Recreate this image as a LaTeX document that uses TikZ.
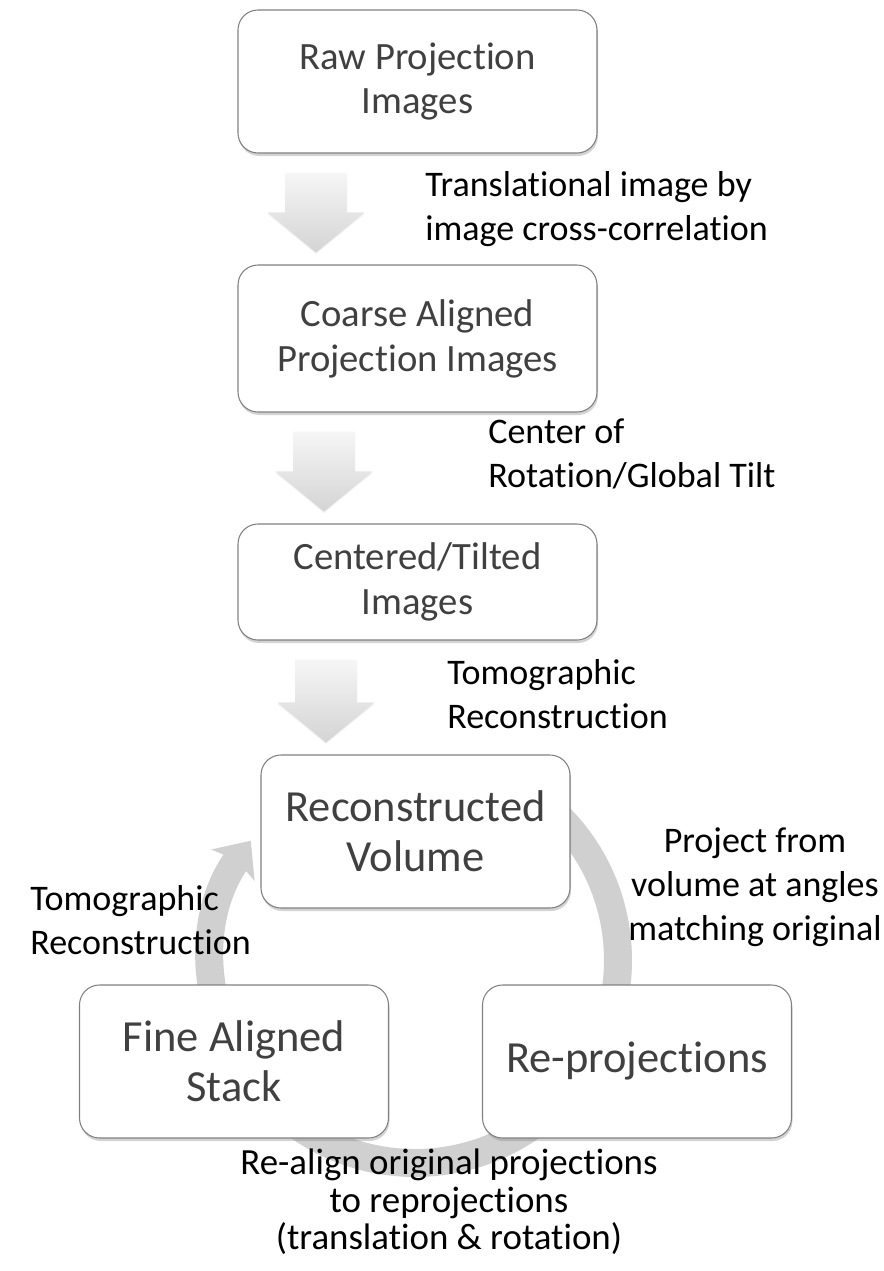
\documentclass[tikz,border=0pt]{standalone}
\usepackage{fontspec}
\setmainfont{Carlito}[Ligatures=NoCommon]
\usetikzlibrary{arrows.meta,shadows,calc}
\definecolor{BoxText}{RGB}{64,64,64}
\definecolor{BoxLine}{RGB}{128,128,128}
\definecolor{CycleGray}{RGB}{208,208,208}
\definecolor{ArrowTop}{RGB}{246,246,246}
\definecolor{ArrowBot}{RGB}{212,212,212}

% shaded block arrow between two boxes: from, to, x offset
\newcommand\blockarrow[3]{%
  \shade[top color=ArrowTop, bottom color=ArrowBot,
         drop shadow={shadow xshift=0cm, shadow yshift=-0.03cm, opacity=0.12}]
    let \p1=($(#1.south)+(#3,-0.38)$), \p2=($(#2.north)+(#3,0.24)$) in
    (\x1-0.62cm,\y1) -- (\x1+0.62cm,\y1) -- (\x1+0.62cm,\y2+0.8cm)
    -- (\x1+0.97cm,\y2+0.8cm) -- (\x1,\y2) -- (\x1-0.97cm,\y2+0.8cm)
    -- (\x1-0.62cm,\y2+0.8cm) -- cycle;}

\begin{document}
\begin{tikzpicture}[
  stepbox/.style={draw=BoxLine, line width=0.6pt, fill=white, rounded corners=0.4cm,
    align=center, text=BoxText, inner sep=0pt,
    drop shadow={shadow xshift=0.02cm, shadow yshift=-0.06cm, opacity=0.35}},
  topbox/.style={stepbox, minimum width=7.18cm, font=\fontsize{22}{25.5}\selectfont},
  loopbox/.style={stepbox, minimum width=6.18cm, minimum height=3.06cm,
    font=\fontsize{25.3}{28.5}\selectfont},
  note/.style={inner sep=0pt, font=\fontsize{20.5}{25}\selectfont},
  cycleline/.style={draw=CycleGray, line width=0.56cm,
    -{Stealth[length=0.6cm, width=1.05cm, inset=0.12cm]}},
]
\useasboundingbox (0,0) rectangle (17.68,-25.42);

% Cycle arrow behind the loop boxes
\coordinate (hub) at (8.30,-19.20);
\draw[cycleline] ([shift={(50:4.06)}]hub) arc[start angle=50, end angle=-216, radius=4.06];

% Pipeline boxes
\node[topbox, minimum height=2.86cm] (raw) at (8.35,-1.63) {Raw Projection\\Images};
\node[topbox, minimum height=2.94cm] (coarse) at (8.35,-6.77) {Coarse Aligned\\Projection Images};
\node[topbox, minimum height=2.32cm] (centered) at (8.35,-11.64) {Centered/Tilted\\Images};

% Loop boxes
\node[loopbox] (volume) at (8.31,-16.63) {Reconstructed\\Volume};
\node[loopbox] (fine) at (4.68,-21.23) {Fine Aligned\\Stack};
\node[loopbox] (reproj) at (12.74,-21.23) {Re-projections};

% Block arrows
\blockarrow{raw}{coarse}{-2.03}
\blockarrow{coarse}{centered}{-1.87}
\blockarrow{centered}{volume}{-1.83}

% Step labels
\node[note, anchor=west, align=left] (lbltrans) at (8.50,-4.18) {Translational image by\\image cross-correlation};
\node[note, anchor=west, align=left] (lblcenter) at (9.76,-9.08) {Center of\\Rotation/Global Tilt};
\node[note, anchor=west, align=left] (lbltomo) at (8.94,-13.88) {Tomographic\\Reconstruction};
\node[note, align=center] (lblproject) at (15.10,-17.74) {Project from\\volume at angles\\matching original};
\node[note, anchor=west, align=left] (lbltomoloop) at (0.60,-18.40) {Tomographic\\Reconstruction};
\node[note, align=center, font=\fontsize{21}{21.4}\selectfont] (lblrealign) at (8.98,-24.04)
  {Re-align original projections\\to reprojections\\(translation \& rotation)};

\end{tikzpicture}
\end{document}
